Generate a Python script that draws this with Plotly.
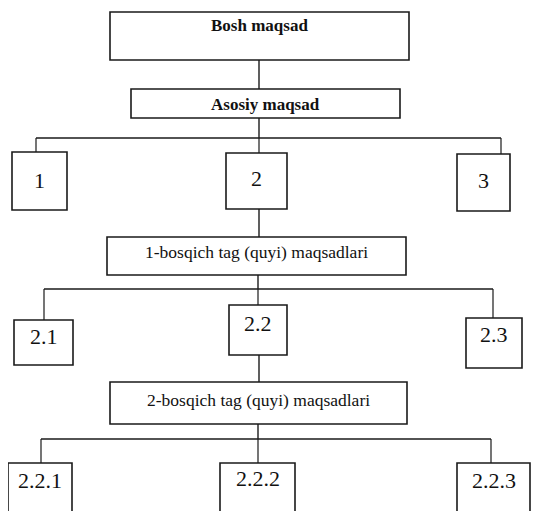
import plotly.graph_objects as go

# Node data
node_ids = ["root", "main", "1", "2", "3", "s1", "2.1", "2.2", "2.3", "s2", "2.2.1", "2.2.2", "2.2.3"]
node_labels = ["Bosh maqsad", "Asosiy maqsad", "1", "2", "3",
               "1-bosqich tag (quyi) maqsadlari", "2.1", "2.2", "2.3",
               "2-bosqich tag (quyi) maqsadlari", "2.2.1", "2.2.2", "2.2.3"]
node_parents = ["", "root", "main", "main", "main", "2", "s1", "s1", "s1", "2.2", "s2", "s2", "s2"]

# Layout (pixel boxes: x0, x1, y0, y1, text_y, font size, bold)
geom = {
    "root":  (110, 409, 12, 60, 25, 17, True),
    "main":  (131, 400, 89, 118, 104, 17, True),
    "1":     (12, 67, 152, 210, 180, 22, False),
    "2":     (226, 287, 153, 209, 178, 22, False),
    "3":     (457, 510, 154, 211, 180, 22, False),
    "s1":    (107, 406, 237, 275, 252, 17.5, False),
    "2.1":   (14, 73, 320, 365, 336, 22, False),
    "2.2":   (229, 287, 305, 355, 323, 22, False),
    "2.3":   (466, 522, 318, 368, 334, 22, False),
    "s2":    (110, 407, 382, 424, 400, 17.5, False),
    "2.2.1": (8, 72, 463, 530, 480, 22, False),
    "2.2.2": (220, 295, 463, 530, 478, 22, False),
    "2.2.3": (457, 530, 463, 530, 480, 22, False),
}
# connector bars: parent -> (bar y, bar x0, bar x1, drop x for each child)
bars = {
    "main": (138, 36, 501, {"1": 36, "2": 259, "3": 501}),
    "s1": (289, 44, 493, {"2.1": 44, "2.2": 258, "2.3": 493}),
    "s2": (439, 41, 491, {"2.2.1": 41, "2.2.2": 258, "2.2.3": 491}),
}

LC = "#1a1a1a"
shapes = []
annotations = []
for nid, lab in zip(node_ids, node_labels):
    x0, x1, y0, y1, ty, fs, bold = geom[nid]
    shapes.append(dict(type="rect", x0=x0, x1=x1, y0=y0, y1=y1,
                       line=dict(color=LC, width=1.6), fillcolor="white", layer="above"))
    txt = f"<b>{lab}</b>" if bold else lab
    annotations.append(dict(x=(x0 + x1) / 2, y=ty, text=txt, showarrow=False,
                            font=dict(family="Liberation Serif", size=fs, color="#111"),
                            xanchor="center", yanchor="middle"))

children = {}
for nid, par in zip(node_ids, node_parents):
    if par:
        children.setdefault(par, []).append(nid)

for par, kids in children.items():
    px0, px1, py0, py1 = geom[par][:4]
    if par in bars:
        by, bx0, bx1, drops = bars[par]
        cx = drops[kids[len(kids) // 2]]
        shapes.append(dict(type="line", x0=cx, x1=cx, y0=py1, y1=by, line=dict(color=LC, width=1.4)))
        shapes.append(dict(type="line", x0=bx0, x1=bx1, y0=by, y1=by, line=dict(color=LC, width=1.4)))
        for k in kids:
            dx = drops[k]
            shapes.append(dict(type="line", x0=dx, x1=dx, y0=by, y1=geom[k][2], line=dict(color=LC, width=1.2)))
    else:
        for k in kids:
            shapes.append(dict(type="line", x0=259, x1=259, y0=py1, y1=geom[k][2], line=dict(color=LC, width=1.4)))

# page body has an 8px margin: figure covers page pixels 8..541 / 8..511
fig = go.Figure()
fig.add_trace(go.Scatter(x=[8, 541], y=[8, 511], mode="markers", marker=dict(opacity=0), hoverinfo="skip", showlegend=False))
fig.update_layout(
    width=533, height=503, margin=dict(l=0, r=0, t=0, b=0),
    paper_bgcolor="white", plot_bgcolor="white",
    xaxis=dict(range=[8, 541], visible=False, fixedrange=True),
    yaxis=dict(range=[511, 8], visible=False, fixedrange=True),
    shapes=shapes, annotations=annotations, showlegend=False,
)
fig.write_html("out.html", config={"displayModeBar": False})
